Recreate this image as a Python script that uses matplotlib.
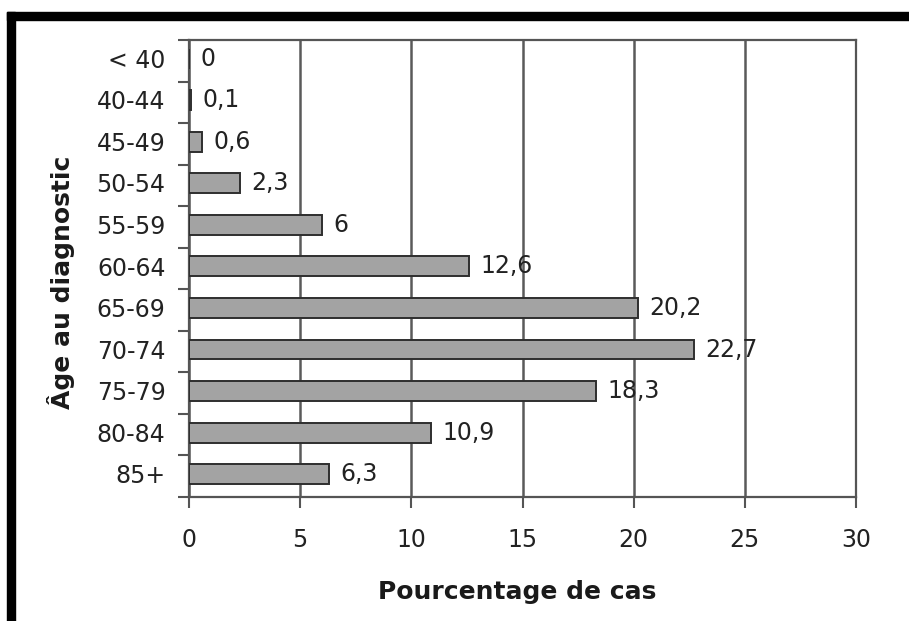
import matplotlib
matplotlib.use("Agg")
import matplotlib.pyplot as plt
from matplotlib.patches import Rectangle

# Age groups at diagnosis and share of cases (%)
age_groups = ["< 40", "40-44", "45-49", "50-54", "55-59", "60-64",
              "65-69", "70-74", "75-79", "80-84", "85+"]
pct_cases = [0, 0.1, 0.6, 2.3, 6, 12.6, 20.2, 22.7, 18.3, 10.9, 6.3]
x_ticks = [0, 5, 10, 15, 20, 25, 30]

plt.rcParams["font.family"] = ["DejaVu Sans"]

W, H = 909, 621
fig = plt.figure(figsize=(W / 100, H / 100), dpi=100)
fig.patch.set_facecolor("white")

ax = fig.add_axes([189 / W, 1 - 497 / H, (856 - 189) / W, (497 - 40) / H])

ypos = list(range(len(age_groups)))
bar_y = [y - 0.05 for y in ypos]
ax.barh(bar_y, pct_cases, height=0.48, color="#a3a3a3",
        edgecolor="#2e2e2e", linewidth=1.4, zorder=3)

for y, v in zip(ypos, pct_cases):
    label = f"{v:g}".replace(".", ",")
    ax.annotate(label, xy=(v, y), xytext=(8, 1.5), textcoords="offset points",
                ha="left", va="center", fontsize=17,
                color="#222222", zorder=4)

ax.set_xlim(0, 30)
ax.set_ylim(len(age_groups) - 0.5, -0.5)

ax.set_xticks(x_ticks)
ax.set_xticklabels([str(t) for t in x_ticks])
ax.set_yticks(ypos)
ax.set_yticklabels(age_groups, va="center")
ax.set_yticks([i + 0.5 for i in range(-1, len(age_groups))], minor=True)

ax.tick_params(axis="y", which="major", length=0, pad=17, labelsize=17,
               labelcolor="#222222")
ax.tick_params(axis="y", which="minor", length=8, width=1.5, color="#555555")
ax.tick_params(axis="x", which="major", length=8, width=1.5, color="#555555",
               pad=14, labelsize=17, labelcolor="#222222")

ax.grid(axis="x", color="#5a5a5a", linewidth=1.8, zorder=1)
for s in ax.spines.values():
    s.set_color("#555555")
    s.set_linewidth(1.6)

ax.set_xlabel("Pourcentage de cas", fontsize=18, fontweight="bold",
              color="#1a1a1a")
ax.set_ylabel("Âge au diagnostic", fontsize=18, fontweight="bold",
              color="#1a1a1a")
ax.xaxis.set_label_coords(517 / W, 1 - 592 / H, transform=fig.transFigure)
ax.yaxis.set_label_coords(61 / W, 1 - 282 / H, transform=fig.transFigure)
ax.xaxis.label.set_va("center")
ax.yaxis.label.set_va("center")

# Black frame along the top and left edges
fig.patches.append(Rectangle((7 / W, 1 - 20 / H), (W - 7) / W, 8 / H,
                             transform=fig.transFigure, color="black"))
fig.patches.append(Rectangle((7 / W, 0), 8 / W, 1 - 12 / H,
                             transform=fig.transFigure, color="black"))

fig.savefig("out.png", dpi=100)
